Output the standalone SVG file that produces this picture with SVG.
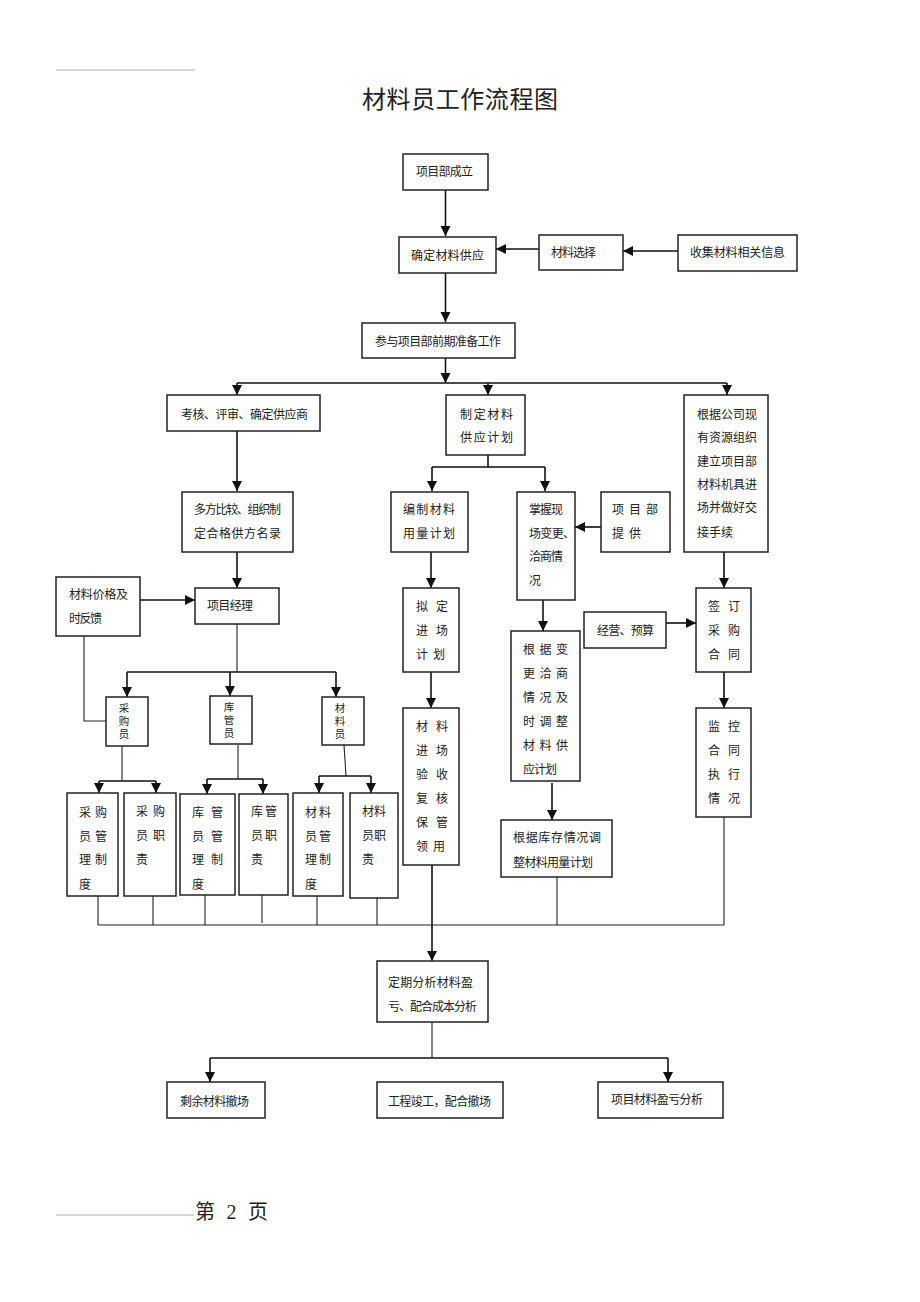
<svg xmlns="http://www.w3.org/2000/svg" width="920" height="1302" viewBox="0 0 920 1302">
<style>
.bx{fill:#fff;stroke:#222;stroke-width:1.5}
.t{font-family:"Noto Sans CJK SC","Noto Sans",sans-serif;font-size:12px;fill:#222}
.tc{font-family:"Noto Sans CJK SC","Noto Sans",sans-serif;font-size:10.5px;fill:#222;text-anchor:middle}
.ar{fill:none;stroke:#111;stroke-width:1.6;marker-end:url(#ah)}
.ln{fill:none;stroke:#111;stroke-width:1.6}
.th{fill:none;stroke:#222;stroke-width:1.1}
.rule{stroke:#9a9a9a;stroke-width:0.8}
</style>
<defs>
<marker id="ah" markerUnits="userSpaceOnUse" markerWidth="11" markerHeight="11" refX="10" refY="5" orient="auto">
<path d="M0,0 L10,5 L0,10 z" fill="#111"/>
</marker>
</defs>
<rect width="920" height="1302" fill="#fff"/>
<line class="rule" x1="56" y1="70" x2="195" y2="70"/>
<text x="362" y="108" textLength="196" lengthAdjust="spacing" style="font-family:'Noto Sans CJK SC',sans-serif;font-size:24px;fill:#222">材料员工作流程图</text>
<line class="rule" x1="56" y1="1215" x2="194" y2="1215"/>
<text x="195" y="1219" textLength="73" lengthAdjust="spacing" style="font-family:'Liberation Serif','Noto Sans CJK SC',serif;font-size:20px;fill:#222">第 2 页</text>

<g id="connectors">
<path class="ar" d="M445.5,190 V236"/>
<path class="ar" d="M539,249 H496"/>
<path class="ar" d="M678,251 H623"/>
<path class="ar" d="M445.5,273 V322"/>
<path class="ar" d="M445.5,358 V383"/>
<path class="ln" d="M237,383 H727"/>
<path class="ar" d="M237,383 V395"/>
<path class="ar" d="M488,383 V395"/>
<path class="ar" d="M727,383 V395"/>
<path class="ar" d="M237,431 V491"/>
<path class="ln" d="M488,455 V467 M432,467 H545"/>
<path class="ar" d="M432,467 V491"/>
<path class="ar" d="M545,467 V491"/>
<path class="ar" d="M601,527 H575"/>
<path class="ar" d="M237,552 V588"/>
<path class="ar" d="M140,600 H195"/>
<path class="th" d="M237,624 V672"/>
<path class="ln" d="M127,672 H336"/>
<path class="ar" d="M127,672 V697"/>
<path class="ar" d="M230,672 V696"/>
<path class="ar" d="M336,672 V697"/>
<path class="th" d="M84,636 V721 H106"/>
<path class="th" d="M122,746 V781"/>
<path class="ln" d="M99,781 H156"/>
<path class="ar" d="M99,781 V793"/>
<path class="ar" d="M156,781 V793"/>
<path class="th" d="M238,745 V779"/>
<path class="ln" d="M207,779 H263"/>
<path class="ar" d="M207,779 V794"/>
<path class="ar" d="M263,779 V794"/>
<path class="th" d="M344,745 L346,776"/>
<path class="ln" d="M319,776 H371"/>
<path class="ar" d="M319,776 V793"/>
<path class="ar" d="M371,776 V793"/>
<path class="ar" d="M431,552 V588"/>
<path class="ar" d="M431,672 V708"/>
<path class="ar" d="M432,865 V961"/>
<path class="ar" d="M543,600 V631"/>
<path class="ar" d="M552,783 V820"/>
<path class="ar" d="M724,552 V588"/>
<path class="ar" d="M666,623 H696"/>
<path class="ar" d="M724,672 V708"/>
<path class="th" d="M98,925 H724"/>
<path class="th" d="M98,896 V925 M153,896 V925 M205,895 V925 M262,895 V923 M317,896 V925 M377,898 V925 M557,877 V925 M724,817 V925"/>
<path class="th" d="M432,1022 V1058"/>
<path class="ln" d="M210,1058 H668"/>
<path class="ar" d="M210,1058 V1082"/>
<path class="ar" d="M668,1058 V1082"/>
</g>

<g id="n1"><rect class="bx" x="403" y="154" width="85" height="36"/><text class="t" x="416" y="176" textLength="57" lengthAdjust="spacing">项目部成立</text></g>
<g id="n2"><rect class="bx" x="399" y="237" width="97" height="36"/><text class="t" x="411" y="260" textLength="73" lengthAdjust="spacing">确定材料供应</text></g>
<g id="n3"><rect class="bx" x="539" y="235" width="84" height="35"/><text class="t" x="551" y="257" textLength="45" lengthAdjust="spacing">材料选择</text></g>
<g id="n4"><rect class="bx" x="678" y="235" width="119" height="36"/><text class="t" x="690" y="257" textLength="95" lengthAdjust="spacing">收集材料相关信息</text></g>
<g id="n5"><rect class="bx" x="362" y="323" width="153" height="35"/><text class="t" x="375" y="346" textLength="126" lengthAdjust="spacing">参与项目部前期准备工作</text></g>
<g id="n6"><rect class="bx" x="167" y="395" width="153" height="36"/><text class="t" x="181" y="419" textLength="127" lengthAdjust="spacing">考核、评审、确定供应商</text></g>
<g id="n7"><rect class="bx" x="446" y="395" width="79" height="60"/><text class="t" x="460" y="419" textLength="53" lengthAdjust="spacing">制定材料</text><text class="t" x="460" y="442" textLength="53" lengthAdjust="spacing">供应计划</text></g>
<g id="n8"><rect class="bx" x="684" y="395" width="84" height="157"/>
<text class="t" x="697" y="419" textLength="60" lengthAdjust="spacing">根据公司现</text>
<text class="t" x="697" y="442" textLength="60" lengthAdjust="spacing">有资源组织</text>
<text class="t" x="697" y="466" textLength="60" lengthAdjust="spacing">建立项目部</text>
<text class="t" x="697" y="489" textLength="60" lengthAdjust="spacing">材料机具进</text>
<text class="t" x="697" y="512" textLength="60" lengthAdjust="spacing">场并做好交</text>
<text class="t" x="697" y="537" textLength="36" lengthAdjust="spacing">接手续</text></g>
<g id="n9"><rect class="bx" x="182" y="492" width="111" height="60"/><text class="t" x="194" y="514" textLength="87" lengthAdjust="spacing">多方比较、组织制</text><text class="t" x="194" y="538" textLength="87" lengthAdjust="spacing">定合格供方名录</text></g>
<g id="n10"><rect class="bx" x="391" y="492" width="77" height="60"/><text class="t" x="403" y="514" textLength="52" lengthAdjust="spacing">编制材料</text><text class="t" x="403" y="538" textLength="52" lengthAdjust="spacing">用量计划</text></g>
<g id="n11"><rect class="bx" x="517" y="492" width="58" height="108"/>
<text class="t" x="529" y="514" textLength="34" lengthAdjust="spacing">掌握现</text>
<text class="t" x="529" y="538" textLength="46" lengthAdjust="spacing">场变更、</text>
<text class="t" x="529" y="561" textLength="34" lengthAdjust="spacing">洽商情</text>
<text class="t" x="529" y="585">况</text></g>
<g id="n12"><rect class="bx" x="601" y="492" width="69" height="60"/><text class="t" x="612" y="514" textLength="46" lengthAdjust="spacing">项目部</text><text class="t" x="612" y="538" textLength="29" lengthAdjust="spacing">提供</text></g>
<g id="n13"><rect class="bx" x="56" y="577" width="84" height="59"/><text class="t" x="69" y="599" textLength="59" lengthAdjust="spacing">材料价格及</text><text class="t" x="69" y="623" textLength="33" lengthAdjust="spacing">时反馈</text></g>
<g id="n14"><rect class="bx" x="195" y="588" width="84" height="36"/><text class="t" x="207" y="610" textLength="46" lengthAdjust="spacing">项目经理</text></g>
<g id="n15"><rect class="bx" x="106" y="697" width="42" height="49"/><text class="tc" x="124" y="712">采</text><text class="tc" x="124" y="725">购</text><text class="tc" x="124" y="738">员</text></g>
<g id="n16"><rect class="bx" x="210" y="696" width="42" height="48"/><text class="tc" x="229" y="711">库</text><text class="tc" x="229" y="724">管</text><text class="tc" x="229" y="737">员</text></g>
<g id="n17"><rect class="bx" x="322" y="697" width="42" height="48"/><text class="tc" x="340" y="712">材</text><text class="tc" x="340" y="725">料</text><text class="tc" x="340" y="738">员</text></g>
<g id="n18"><rect class="bx" x="403" y="588" width="56" height="84"/>
<text class="t" x="416" y="611" textLength="32" lengthAdjust="spacing">拟定</text>
<text class="t" x="416" y="635" textLength="32" lengthAdjust="spacing">进场</text>
<text class="t" x="416" y="659" textLength="29" lengthAdjust="spacing">计划</text></g>
<g id="n19"><rect class="bx" x="403" y="708" width="56" height="157"/>
<text class="t" x="416" y="731" textLength="32" lengthAdjust="spacing">材料</text>
<text class="t" x="416" y="755" textLength="32" lengthAdjust="spacing">进场</text>
<text class="t" x="416" y="779" textLength="32" lengthAdjust="spacing">验收</text>
<text class="t" x="416" y="803" textLength="32" lengthAdjust="spacing">复核</text>
<text class="t" x="416" y="827" textLength="32" lengthAdjust="spacing">保管</text>
<text class="t" x="416" y="851" textLength="29" lengthAdjust="spacing">领用</text></g>
<g id="n20"><rect class="bx" x="511" y="631" width="69" height="150"/>
<text class="t" x="523" y="654" textLength="45" lengthAdjust="spacing">根据变</text>
<text class="t" x="523" y="678" textLength="45" lengthAdjust="spacing">更洽商</text>
<text class="t" x="523" y="702" textLength="45" lengthAdjust="spacing">情况及</text>
<text class="t" x="523" y="726" textLength="45" lengthAdjust="spacing">时调整</text>
<text class="t" x="523" y="750" textLength="45" lengthAdjust="spacing">材料供</text>
<text class="t" x="523" y="774" textLength="34" lengthAdjust="spacing">应计划</text></g>
<g id="n21"><rect class="bx" x="501" y="820" width="111" height="57"/><text class="t" x="513" y="842" textLength="88" lengthAdjust="spacing">根据库存情况调</text><text class="t" x="513" y="867" textLength="80" lengthAdjust="spacing">整材料用量计划</text></g>
<g id="n22"><rect class="bx" x="584" y="612" width="82" height="36"/><text class="t" x="597" y="635" textLength="57" lengthAdjust="spacing">经营、预算</text></g>
<g id="n23"><rect class="bx" x="696" y="588" width="55" height="84"/>
<text class="t" x="708" y="611" textLength="32" lengthAdjust="spacing">签订</text>
<text class="t" x="708" y="635" textLength="32" lengthAdjust="spacing">采购</text>
<text class="t" x="708" y="659" textLength="32" lengthAdjust="spacing">合同</text></g>
<g id="n24"><rect class="bx" x="696" y="708" width="55" height="109"/>
<text class="t" x="708" y="731" textLength="32" lengthAdjust="spacing">监控</text>
<text class="t" x="708" y="755" textLength="32" lengthAdjust="spacing">合同</text>
<text class="t" x="708" y="779" textLength="32" lengthAdjust="spacing">执行</text>
<text class="t" x="708" y="803" textLength="32" lengthAdjust="spacing">情况</text></g>
<g id="n25"><rect class="bx" x="67" y="793" width="51" height="103"/>
<text class="t" x="79" y="817" textLength="28" lengthAdjust="spacing">采购</text>
<text class="t" x="79" y="841" textLength="28" lengthAdjust="spacing">员管</text>
<text class="t" x="79" y="864" textLength="28" lengthAdjust="spacing">理制</text>
<text class="t" x="79" y="889">度</text></g>
<g id="n26"><rect class="bx" x="124" y="793" width="52" height="103"/>
<text class="t" x="136" y="816" textLength="29" lengthAdjust="spacing">采购</text>
<text class="t" x="136" y="840" textLength="29" lengthAdjust="spacing">员职</text>
<text class="t" x="136" y="864">责</text></g>
<g id="n27"><rect class="bx" x="180" y="794" width="55" height="101"/>
<text class="t" x="192" y="817" textLength="31" lengthAdjust="spacing">库管</text>
<text class="t" x="192" y="841" textLength="31" lengthAdjust="spacing">员管</text>
<text class="t" x="192" y="864" textLength="31" lengthAdjust="spacing">理制</text>
<text class="t" x="192" y="889">度</text></g>
<g id="n28"><rect class="bx" x="239" y="794" width="49" height="101"/>
<text class="t" x="251" y="816" textLength="26" lengthAdjust="spacing">库管</text>
<text class="t" x="251" y="840" textLength="26" lengthAdjust="spacing">员职</text>
<text class="t" x="251" y="864">责</text></g>
<g id="n29"><rect class="bx" x="293" y="793" width="50" height="103"/>
<text class="t" x="305" y="817" textLength="26" lengthAdjust="spacing">材料</text>
<text class="t" x="305" y="841" textLength="26" lengthAdjust="spacing">员管</text>
<text class="t" x="305" y="864" textLength="26" lengthAdjust="spacing">理制</text>
<text class="t" x="305" y="889">度</text></g>
<g id="n30"><rect class="bx" x="350" y="793" width="48" height="105"/>
<text class="t" x="362" y="816" textLength="24" lengthAdjust="spacing">材料</text>
<text class="t" x="362" y="840" textLength="24" lengthAdjust="spacing">员职</text>
<text class="t" x="362" y="864">责</text></g>
<g id="n31"><rect class="bx" x="377" y="961" width="111" height="61"/><text class="t" x="388" y="987" textLength="85" lengthAdjust="spacing">定期分析材料盈</text><text class="t" x="388" y="1011" textLength="89" lengthAdjust="spacing">亏、配合成本分析</text></g>
<g id="n32"><rect class="bx" x="167" y="1082" width="98" height="36"/><text class="t" x="180" y="1106" textLength="69" lengthAdjust="spacing">剩余材料撤场</text></g>
<g id="n33"><rect class="bx" x="377" y="1082" width="126" height="36"/><text class="t" x="388" y="1106" textLength="103" lengthAdjust="spacing">工程竣工，配合撤场</text></g>
<g id="n34"><rect class="bx" x="598" y="1082" width="125" height="36"/><text class="t" x="611" y="1104" textLength="92" lengthAdjust="spacing">项目材料盈亏分析</text></g>
</svg>
